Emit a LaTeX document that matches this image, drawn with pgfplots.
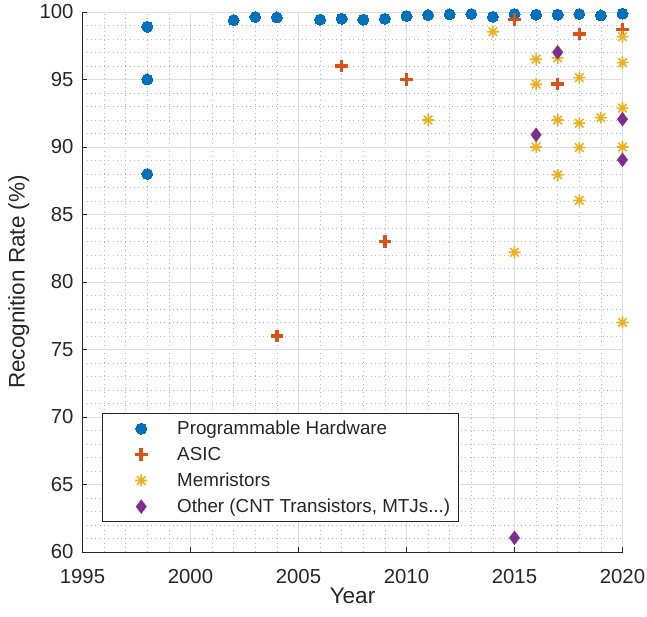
\documentclass[border=0pt]{standalone}
\usepackage{fontspec}
\setmainfont{Liberation Sans}
\usepackage{pgfplots}
\pgfplotsset{compat=1.18}
\definecolor{mblue}{rgb}{0,0.447,0.741}
\definecolor{morange}{rgb}{0.85,0.325,0.098}
\definecolor{myellow}{rgb}{0.929,0.694,0.125}
\definecolor{mpurple}{rgb}{0.494,0.184,0.556}
\definecolor{textc}{rgb}{0.15,0.15,0.15}
\definecolor{gridmaj}{rgb}{0.87,0.87,0.87}
\definecolor{gridmin}{rgb}{0.72,0.72,0.72}
\pgfdeclareplotmark{mstar}{%
  \pgfpathmoveto{\pgfqpoint{\pgfplotmarksize}{0pt}}\pgfpathlineto{\pgfqpoint{-\pgfplotmarksize}{0pt}}%
  \pgfpathmoveto{\pgfqpoint{0pt}{\pgfplotmarksize}}\pgfpathlineto{\pgfqpoint{0pt}{-\pgfplotmarksize}}%
  \pgfpathmoveto{\pgfqpoint{.7071\pgfplotmarksize}{.7071\pgfplotmarksize}}\pgfpathlineto{\pgfqpoint{-.7071\pgfplotmarksize}{-.7071\pgfplotmarksize}}%
  \pgfpathmoveto{\pgfqpoint{-.7071\pgfplotmarksize}{.7071\pgfplotmarksize}}\pgfpathlineto{\pgfqpoint{.7071\pgfplotmarksize}{-.7071\pgfplotmarksize}}%
  \pgfusepathqstroke}
\pgfplotsset{myleg/.style={legend image code/.code={\path[draw=none,fill=none] (0pt,-1pt) rectangle (67pt,1pt); \draw[##1, only marks] plot coordinates {(33pt,0pt)};}}}
\begin{document}
\begin{tikzpicture}
\begin{axis}[name=ax, at={(0,0)}, anchor=south west,
  scale only axis, width=540pt, height=540pt,
  xmin=1995, xmax=2020, ymin=60, ymax=100,
  xtick={1995,2000,...,2020}, ytick={60,65,...,100},
  minor xtick={1995,...,2020}, minor ytick={60,...,100},
  /pgf/number format/1000 sep={},
  /pgf/number format/assume math mode=true,
  axis x line*=bottom, axis y line*=left,
  clip=false,
  grid=both,
  major grid style={color=gridmaj, line width=0.6pt},
  minor grid style={color=gridmin, dash pattern=on 0.7pt off 3.6pt, line width=0.6pt},
  tick align=inside, major tick length=5pt, minor tick length=0pt,
  tick style={color=textc, line width=0.6pt},
  axis line style={color=textc, line width=0.7pt},
  ticklabel style={font=\fontsize{20.3}{24}\selectfont, color=textc},
  xticklabel style={yshift=-14pt},
  yticklabel style={xshift=-5.5pt},
  xlabel={Year}, ylabel={Recognition Rate (\%)},
  label style={font=\fontsize{22.5}{27}\selectfont, color=textc},
  xlabel style={yshift=3pt},
  ylabel style={yshift=3.5pt},
  legend style={at={(0.036,0.0556)}, anchor=south west,
    font=\fontsize{18.8}{22}\selectfont, text=textc,
    draw=textc, line width=0.6pt, inner xsep=6pt, inner ysep=5.5pt,
    row sep=7pt, cells={anchor=west}},
  legend cell align=left,
]
\addplot[only marks, mark=*, color=mblue, mark size=5.5pt, line width=0pt, myleg] coordinates {
(1998,98.9) (1998,95.0) (1998,88.0) (2002,99.4) (2003,99.63) (2004,99.6)
(2006,99.43) (2007,99.5) (2008,99.43) (2009,99.5) (2010,99.7) (2011,99.78)
(2012,99.83) (2013,99.85) (2014,99.65) (2015,99.85) (2016,99.8) (2017,99.8)
(2018,99.85) (2019,99.75) (2020,99.88)};
\addlegendentry{Programmable Hardware}
\addplot[only marks, mark=+, color=morange, mark size=6.3pt, line width=3.5pt, myleg] coordinates {
(2004,76) (2007,96) (2009,83) (2010,95) (2015,99.46) (2017,94.67) (2018,98.37) (2020,98.7)};
\addlegendentry{ASIC}
\addplot[only marks, mark=mstar, color=myellow, mark size=6pt, line width=1.6pt, myleg] coordinates {
(2011,92.0) (2014,98.54) (2015,82.2) (2016,96.5) (2016,94.65) (2016,90.0)
(2017,96.6) (2017,92.0) (2017,87.94) (2018,95.14) (2018,91.76) (2018,89.96)
(2018,86.05) (2019,92.18) (2020,98.17) (2020,96.25) (2020,92.88) (2020,90.0) (2020,77.0)};
\addlegendentry{Memristors}
\addplot[only marks, mark=diamond*, color=mpurple, mark size=7pt, line width=0.3pt, myleg] coordinates {
(2015,61.05) (2016,90.9) (2017,97.02) (2020,92.06) (2020,89.05)};
\addlegendentry{Other (CNT Transistors, MTJs...)}
\end{axis}
\pgfresetboundingbox
\path ([xshift=-82.5pt,yshift=-65pt]ax.south west) rectangle ([xshift=24.5pt,yshift=12pt]ax.north east);
\end{tikzpicture}
\end{document}
